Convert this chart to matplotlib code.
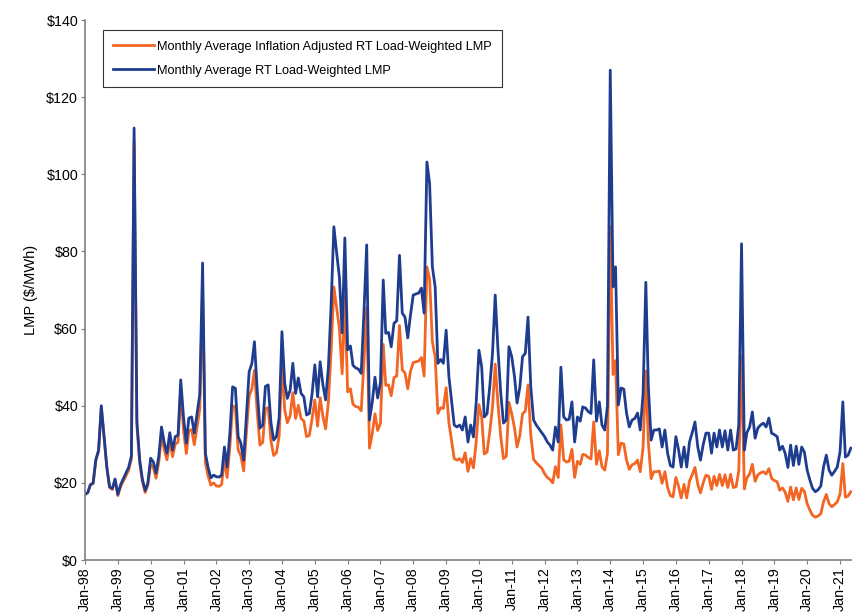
import matplotlib
matplotlib.use("Agg")
import matplotlib.pyplot as plt
import matplotlib.dates as mdates
import numpy as np
import pandas as pd

plt.rcParams['font.family'] = ['Liberation Sans', 'DejaVu Sans']

# monthly values, Jan-98 .. May-21
nominal_lmp = [
    17, 17.5, 19.5, 20, 26, 28.5, 40, 32, 24, 19, 18.5, 21,            # 1998
    17, 19.5, 21, 22.5, 24, 27, 112, 36, 26, 21, 18, 20,               # 1999
    26.4, 25.4, 22.5, 27, 34.5, 30.3, 27.7, 33, 28.5, 32, 32.4, 46.7,  # 2000
    37, 30.3, 36.8, 37.1, 32.9, 38, 43, 77, 27.7, 24, 21.3, 22,        # 2001
    21.6, 21.5, 22, 29.3, 24.1, 33, 44.9, 44.5, 32, 30.3, 25.9, 37,    # 2002
    48.8, 51, 56.6, 44, 34.2, 35, 45, 45.4, 35.5, 31.1, 32, 37,        # 2003
    59.2, 45.8, 41.9, 44, 51, 43.2, 47.2, 43.2, 42.3, 37.6, 38, 43,    # 2004
    50.6, 42.3, 51.4, 45.4, 41.5, 50, 66, 86.4, 79.6, 73.4, 58.9, 83.5,  # 2005
    54.5, 55.5, 50.5, 49.8, 49.5, 48.4, 64, 81.7, 36.3, 40.7, 47.4, 42,  # 2006
    46, 72.6, 58.8, 59, 55.3, 61.4, 62, 79, 64, 63, 57.6, 63.5,        # 2007
    68.7, 69, 69.2, 70.5, 64, 103.2, 97.7, 76, 70.8, 51, 52, 51,       # 2008
    59.6, 47.5, 41.5, 35, 34.5, 35, 33.7, 37.1, 30.6, 35, 31.9, 40.7,  # 2009
    54.4, 50, 37.1, 37.9, 44.9, 53.6, 68.7, 54.4, 43.2, 35.5, 36.3, 55.3,  # 2010
    52.7, 47.5, 40.7, 44.8, 52.7, 53.6, 63, 44.8, 36.3, 35, 34, 33,    # 2011
    32, 30.6, 29.8, 28.5, 34.5, 30.6, 50, 37.1, 36.3, 36.5, 41, 30.6,  # 2012
    37.1, 36, 39.7, 39.4, 38.5, 38, 51.9, 36, 41, 35, 33.7, 40,        # 2013
    127, 70.8, 76, 40.2, 44.6, 44.3, 38.1, 34.5, 36.3, 36.7, 38.1, 33.7,  # 2014
    43, 72, 45, 31.1, 33.7, 33.7, 34, 29.3, 33.7, 27.7, 24.5, 24.1,    # 2015
    32, 28.5, 24.1, 29.3, 24.1, 30.6, 33, 35.8, 29.3, 25.9, 30, 32.9,  # 2016
    32.9, 27.7, 32.9, 29.3, 33.7, 29.3, 33.5, 28.5, 33.7, 28.5, 28.8, 35,  # 2017
    82, 28.5, 33, 34.5, 38.4, 31.6, 34.2, 35, 35.5, 34.5, 36.8, 32.9,  # 2018
    32.5, 32, 28.5, 29.5, 27.7, 24, 29.8, 24.5, 29.5, 24.8, 29.3, 28,  # 2019
    23.3, 20.7, 18.6, 17.7, 18.2, 19.2, 24.1, 27.2, 23.3, 22, 23, 24.1,  # 2020
    28, 41, 26.7, 27.2, 29,                                            # 2021
]

adjusted_lmp = [
    17, 17.5, 19.5, 19.8, 25.7, 28.2, 39.6, 31.7, 23.8, 18.8, 18.3, 20.8,  # 1998
    16.7, 19, 20.4, 21.8, 23.3, 26.2, 108.6, 34.9, 25.2, 20.4, 17.5, 19.4,  # 1999
    24.8, 23.9, 21.2, 25.4, 32.4, 28.5, 26, 31, 26.8, 30.1, 30.5, 43.9,  # 2000
    33.7, 27.6, 33.5, 33.8, 29.9, 34.6, 39.1, 70.1, 25.2, 21.8, 19.4, 20,  # 2001
    19.2, 19.1, 19.6, 26.1, 21.4, 29.4, 40, 39.6, 28.5, 27, 23.1, 32.9,  # 2002
    42.5, 44.4, 49.2, 38.3, 29.8, 30.5, 39.2, 39.5, 30.9, 27.1, 27.8, 32.2,  # 2003
    50.3, 38.9, 35.6, 37.4, 43.4, 36.7, 40.1, 36.7, 36, 32, 32.3, 36.6,  # 2004
    41.5, 34.7, 42.1, 37.2, 34, 41, 54.1, 70.8, 65.3, 60.2, 48.3, 68.5,  # 2005
    43.6, 44.4, 40.4, 39.8, 39.6, 38.7, 51.2, 65.4, 29, 32.6, 37.9, 33.6,  # 2006
    35.4, 55.9, 45.3, 45.4, 42.6, 47.3, 47.7, 60.8, 49.3, 48.5, 44.4, 48.9,  # 2007
    51.2, 51.4, 51.6, 52.5, 47.7, 76, 72.8, 56.6, 52.7, 38, 39.5, 39.3,  # 2008
    44.7, 35.6, 31.1, 26.3, 25.9, 26.3, 25.3, 27.8, 23, 26.3, 23.9, 30.5,  # 2009
    40.3, 37, 27.5, 28, 33.2, 39.7, 50.8, 40.3, 32, 26.3, 26.9, 40.9,  # 2010
    37.9, 34.2, 29.3, 32.3, 37.9, 38.6, 45.4, 32.3, 26.1, 25.2, 24.5, 23.8,  # 2011
    22.4, 21.4, 20.9, 20, 24.2, 21.4, 35, 26, 25.4, 25.6, 28.7, 21.4,  # 2012
    25.6, 24.8, 27.4, 27.2, 26.6, 26.2, 35.8, 24.8, 28.3, 24.2, 23.3, 27.6,  # 2013
    86.4, 48.1, 51.7, 27.3, 30.3, 30.1, 25.9, 23.5, 24.7, 25, 25.9, 22.9,  # 2014
    29.2, 49, 30.6, 21.1, 22.9, 22.9, 23.1, 19.9, 22.9, 18.8, 16.7, 16.4,  # 2015
    21.4, 19.1, 16.1, 19.6, 16.1, 20.5, 22.1, 24, 19.6, 17.4, 20.1, 22,  # 2016
    21.7, 18.3, 21.7, 19.3, 22.2, 19.3, 22.1, 18.8, 22.2, 18.8, 19, 23.1,  # 2017
    52.9, 18.4, 21.3, 22.3, 24.8, 20.4, 22.1, 22.6, 22.9, 22.3, 23.7, 21.2,  # 2018
    20.6, 20.3, 18.1, 18.7, 17.6, 15.2, 18.9, 15.6, 18.7, 15.7, 18.6, 17.8,  # 2019
    14.6, 12.9, 11.6, 11.1, 11.4, 12, 15.1, 17, 14.6, 13.8, 14.4, 15.1,  # 2020
    17.1, 25, 16.3, 16.6, 17.7,                                        # 2021
]

months = pd.date_range('1998-01-01', periods=len(nominal_lmp), freq='MS')
y_ticks = np.arange(0, 141, 20)

fig = plt.figure(figsize=(8.52, 6.15), dpi=100)
ax = fig.add_axes([0.0998, 0.0894, 0.9002, 0.878])

orange = '#F26522'
blue = '#1F3D8F'
ax.plot(months, adjusted_lmp, color=orange, lw=2.0,
        label='Monthly Average Inflation Adjusted RT Load-Weighted LMP')
ax.plot(months, nominal_lmp, color=blue, lw=2.0,
        label='Monthly Average RT Load-Weighted LMP')

ax.set_ylim(0, 140)
ax.set_yticks(y_ticks)
ax.set_yticklabels(['${}'.format(v) for v in y_ticks])
ax.set_ylabel('LMP ($/MWh)', fontsize=10.5, labelpad=6)

ax.set_xlim(pd.Timestamp('1998-01-01'), pd.Timestamp('2021-05-14'))
ax.xaxis.set_major_locator(mdates.YearLocator(1, month=1, day=1))
ax.xaxis.set_major_formatter(mdates.DateFormatter('%b-%y'))
plt.setp(ax.get_xticklabels(), rotation=90)

for s in ['top', 'right']:
    ax.spines[s].set_visible(False)
for s in ['left', 'bottom']:
    ax.spines[s].set_color('#808080')
    ax.spines[s].set_linewidth(1.2)
ax.tick_params(axis='both', labelsize=10.3, color='#808080', direction='out', length=3, pad=2)

leg = ax.legend(loc='upper left', bbox_to_anchor=(0.0235, 0.981), borderaxespad=0,
                fontsize=9.2, frameon=True, fancybox=False, edgecolor='black',
                handlelength=3.2, borderpad=0.8, labelspacing=0.95, handletextpad=0.25)
leg.get_frame().set_linewidth(0.8)

fig.savefig('out.png', dpi=100)
